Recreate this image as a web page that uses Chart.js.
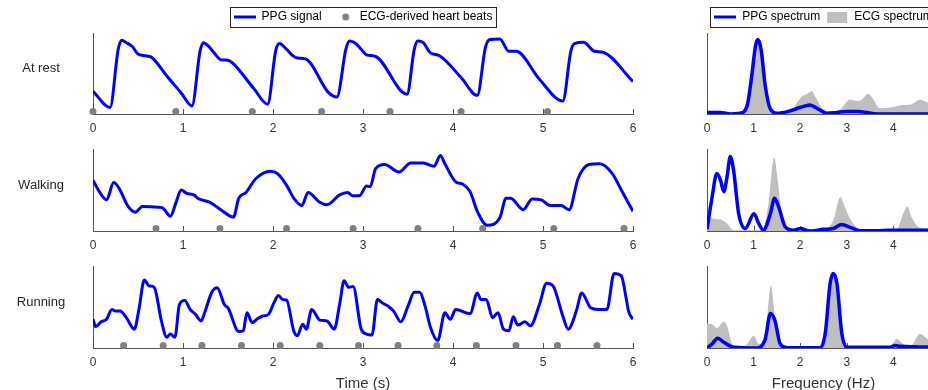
<!DOCTYPE html>
<html>
<head>
<meta charset="utf-8">
<script src="https://cdn.jsdelivr.net/npm/chart.js@4.4.0/dist/chart.umd.min.js"></script>
<style>
  html, body { margin: 0; padding: 0; background: #fff; }
  body { width: 928px; height: 390px; overflow: hidden; position: relative; }
  canvas { position: absolute; }
</style>
</head>
<body>
<canvas id="restSig"></canvas>
<canvas id="walkSig"></canvas>
<canvas id="runSig"></canvas>
<canvas id="restSpec"></canvas>
<canvas id="walkSpec"></canvas>
<canvas id="runSpec"></canvas>
<script>
// ---- time signals (s, normalised amplitude 0-100) ----
let restTime = [0, 0.19, 0.28, 0.32, 0.37, 0.44, 0.50, 0.58, 0.65, 0.82, 0.98, 1.10, 1.19, 1.23, 1.28, 1.35, 1.42, 1.50, 1.55, 1.79, 1.94, 2.03, 2.07, 2.15, 2.22, 2.27, 2.36, 2.62, 2.71, 2.81, 2.85, 2.92, 2.98, 3.04, 3.14, 3.49, 3.57, 3.61, 3.67, 3.75, 3.85, 4.09, 4.27, 4.36, 4.41, 4.52, 4.62, 4.70, 4.96, 5.22, 5.31, 5.35, 5.45, 5.57, 5.67, 6.0];
let restPPG = [28, 8, 80, 91, 88, 83, 74, 72, 70, 47, 26, 10, 78, 88, 84, 75, 67, 66.5, 63, 31, 12, 78, 87, 80, 72, 69, 68, 26, 21, 80, 90, 87, 80, 73, 71, 24.5, 80, 90, 88, 75.5, 72, 45, 23, 82, 92, 92.5, 77.5, 77.5, 43, 16, 78, 87, 88.6, 77.5, 76, 40];
let restBeats = [0, 0.92, 1.77, 2.54, 3.30, 4.09, 5.05];

let walkTime = [0, 0.07, 0.15, 0.23, 0.29, 0.39, 0.47, 0.55, 0.72, 0.78, 0.86, 0.92, 0.98, 1.04, 1.12, 1.18, 1.30, 1.42, 1.56, 1.62, 1.70, 1.81, 1.97, 2.05, 2.15, 2.23, 2.32, 2.39, 2.52, 2.60, 2.74, 2.83, 2.88, 2.96, 3.04, 3.08, 3.14, 3.24, 3.40, 3.53, 3.67, 3.79, 3.86, 3.91, 4.03, 4.11, 4.19, 4.27, 4.38, 4.52, 4.59, 4.64, 4.78, 4.88, 4.98, 5.08, 5.20, 5.29, 5.39, 5.51, 5.63, 5.77, 5.87, 6.0];
let walkPPG = [62, 48, 38, 59, 52, 30, 23, 30, 29, 27.6, 18, 34, 50, 46, 44, 39, 35, 26, 17, 40, 47, 64, 73, 70, 56, 40, 31, 47, 35, 32, 44, 47, 43, 43, 55, 54, 76, 81, 72, 83, 83, 79, 92, 82, 60, 57, 48, 24, 7, 16, 40, 40, 26, 39, 38, 31, 31, 26, 64, 81, 82, 70, 50, 24];
let walkBeats = [0.70, 1.41, 2.15, 2.89, 3.61, 4.33, 5.12, 5.90];

let runTime = [0, 0.03, 0.09, 0.15, 0.21, 0.25, 0.30, 0.37, 0.46, 0.51, 0.57, 0.62, 0.68, 0.76, 0.82, 0.86, 0.91, 0.96, 1.02, 1.08, 1.14, 1.20, 1.24, 1.32, 1.38, 1.46, 1.50, 1.62, 1.67, 1.71, 1.77, 1.83, 1.89, 1.95, 2.01, 2.06, 2.11, 2.15, 2.23, 2.27, 2.33, 2.37, 2.43, 2.52, 2.60, 2.68, 2.74, 2.79, 2.84, 2.89, 2.98, 3.04, 3.10, 3.16, 3.22, 3.28, 3.34, 3.42, 3.50, 3.57, 3.63, 3.69, 3.75, 3.83, 3.91, 3.97, 4.03, 4.19, 4.27, 4.31, 4.37, 4.44, 4.50, 4.56, 4.62, 4.67, 4.72, 4.80, 4.86, 4.96, 5.04, 5.11, 5.22, 5.28, 5.37, 5.43, 5.53, 5.61, 5.71, 5.79, 5.87, 5.93, 5.95, 6.0];
let runPPG = [35, 26, 32, 35, 47, 45, 45, 37, 23, 47, 83, 76, 74, 33, 13, 17, 13, 53, 58, 47, 41, 33, 43, 68, 73.5, 53, 49, 20, 21, 43, 31, 36, 39, 41, 55, 64, 59, 58.5, 21, 15, 29, 23, 47, 34, 33, 23, 53, 82, 74, 75, 23, 17, 16, 59, 54.5, 51, 45, 32, 51, 68, 68, 51, 25, 9, 43, 35, 47, 42, 67, 59, 59, 37, 43, 23, 21, 38, 28, 32, 27, 53, 79, 76, 39, 23, 45, 67, 49, 47, 47, 91, 88, 57, 45, 35];
let runBeats = [0.34, 0.78, 1.21, 1.65, 2.08, 2.52, 2.95, 3.39, 3.82, 4.26, 4.70, 5.16, 5.60];

// ---- spectra (Hz, normalised power 0-100) ----
let restFreqPPG = [0, 0.29, 0.5, 0.71, 0.86, 0.96, 1.04, 1.09, 1.16, 1.25, 1.36, 1.5, 1.79, 2.0, 2.21, 2.39, 2.57, 2.79, 3.0, 3.21, 3.43, 3.64, 3.93, 5];
let restPPGSpec = [2, 2, 0, 1, 10, 47, 84, 92, 80, 35, 6, 1, 4, 8, 11, 6, 1, 2, 3, 3, 2, 0, 0, 0];
let restFreqECG = [0, 0.5, 0.79, 0.93, 1.04, 1.1, 1.18, 1.27, 1.39, 1.79, 1.93, 2.04, 2.14, 2.25, 2.32, 2.46, 2.64, 2.86, 3.07, 3.21, 3.32, 3.46, 3.57, 3.71, 3.93, 4.21, 4.39, 4.57, 4.74, 5];
let restECGSpec = [2, 0, 2, 35, 80, 90, 63, 18, 2, 2, 14, 22, 24.5, 28.5, 22, 8, 2, 6, 18, 16, 18, 25, 18, 7, 8, 11, 12, 17.5, 14, 12];

let walkFreqPPG = [0, 0.11, 0.21, 0.29, 0.36, 0.43, 0.5, 0.57, 0.68, 0.82, 1.01, 1.11, 1.21, 1.36, 1.45, 1.54, 1.68, 1.86, 2.0, 2.21, 2.5, 2.71, 2.89, 3.07, 3.29, 3.64, 3.93, 5];
let walkPPGSpec = [2, 41.5, 70, 62, 48, 66, 91, 74, 21, 3, 21, 9, 1, 21, 40, 29, 5, 1, 3, 0, 2, 3, 8, 4.4, 0.4, 0.4, 1, 1];
let walkFreqECG = [0, 0.14, 0.29, 0.43, 0.57, 1.18, 1.32, 1.44, 1.51, 1.61, 1.71, 2.5, 2.71, 2.86, 2.96, 3.07, 3.29, 4.07, 4.21, 4.3, 4.39, 4.54, 4.74, 5];
let walkECGSpec = [17, 15, 14, 9, 1, 1, 33, 90, 66, 17, 2, 2, 13, 41.5, 29, 15, 2, 2, 21, 30, 17, 5, 3, 3];

let runFreqPPG = [0, 0.11, 0.23, 0.36, 0.57, 1.07, 1.25, 1.36, 1.46, 1.57, 1.71, 2.43, 2.54, 2.64, 2.71, 2.79, 2.89, 3.0, 3.93, 4.04, 4.14, 5];
let runPPGSpec = [0, 5, 12, 7, 1, 0, 11, 42, 33, 5, 0.4, 0.4, 19, 78, 91, 78, 19, 1, 1, 3, 2, 1];
let runFreqECG = [0, 0.11, 0.21, 0.36, 0.43, 0.54, 0.64, 0.79, 0.89, 1.0, 1.11, 1.25, 1.37, 1.46, 1.54, 1.71, 1.86, 2.36, 2.5, 2.61, 2.71, 2.82, 2.93, 3.07, 3.93, 4.07, 4.21, 4.36, 4.57, 4.74, 5];
let runECGSpec = [30, 29, 24.5, 32, 27, 5, 3, 1, 7, 15, 5, 15, 76, 39, 7, 3, 1, 1, 7, 62, 88, 47, 5, 1, 1, 11, 5, 2, 17, 11, 8];

const BLUE = '#0000ff';
const AXIS = '#555555';
const TXT = '#333333';
Chart.defaults.font.family = '"Liberation Sans", Arial, Helvetica, sans-serif';
Chart.defaults.color = TXT;

function pts(xs, ys) {
  return xs.map((x, i) => ({ x: x, y: ys[i] }));
}
function beatPts(xs) {
  return xs.map(x => ({ x: x, y: 3 }));
}

// little legend markers
function mark(w, h, draw) {
  const c = document.createElement('canvas');
  c.width = w; c.height = h;
  draw(c.getContext('2d'));
  return c;
}
const lineMark = mark(22, 4, g => { g.fillStyle = BLUE; g.fillRect(0, 0.5, 22, 3); });
const dotMark = mark(22, 8, g => { g.fillStyle = '#808080'; g.beginPath(); g.arc(14, 4, 3.5, 0, Math.PI * 2); g.fill(); });
const boxMark = mark(22, 11, g => { g.fillStyle = '#bfbfbf'; g.fillRect(1, 0, 20, 11); });

// matlab style ticks pointing into the plot
const innerTicks = {
  id: 'innerTicks',
  beforeDatasetsDraw(chart) {
    const xs = chart.scales.x, a = chart.chartArea, ctx = chart.ctx;
    ctx.save();
    ctx.strokeStyle = AXIS;
    ctx.lineWidth = 1;
    xs.ticks.forEach(t => {
      const px = Math.round(xs.getPixelForValue(t.value)) + 0.5;
      ctx.beginPath();
      ctx.moveTo(px, a.bottom);
      ctx.lineTo(px, a.bottom - 5);
      ctx.stroke();
    });
    ctx.restore();
  }
};

const legendFrame = {
  id: 'legendFrame',
  afterDraw(chart) {
    const lg = chart.legend;
    if (!lg || !lg.options.display || !lg.legendHitBoxes.length) return;
    const hb = lg.legendHitBoxes;
    const last = hb[hb.length - 1];
    const x0 = Math.round(hb[0].left - 4) + 0.5;
    const x1 = Math.round(last.left + last.width + 4) + 0.5;
    const y0 = Math.round(hb[0].top - 4) + 0.5;
    const y1 = Math.round(hb[0].top + hb[0].height + 4) + 0.5;
    const ctx = chart.ctx;
    ctx.save();
    ctx.strokeStyle = '#262626';
    ctx.lineWidth = 1;
    ctx.strokeRect(x0, y0, x1 - x0, y1 - y0);
    ctx.restore();
  }
};

const rowLabel = {
  id: 'rowLabel',
  afterDraw(chart, args, opts) {
    if (!opts.text) return;
    const a = chart.chartArea, ctx = chart.ctx;
    ctx.save();
    ctx.fillStyle = '#262626';
    ctx.font = '13px "Liberation Sans", Arial, sans-serif';
    ctx.textAlign = 'center';
    ctx.textBaseline = 'middle';
    ctx.fillText(opts.text, 41, (a.top + a.bottom) / 2 - 5);
    ctx.restore();
  }
};

function makePanel(id, p) {
  const el = document.getElementById(id);
  el.width = p.width;
  el.height = p.height;
  el.style.left = p.left + 'px';
  el.style.top = p.top + 'px';
  new Chart(el, {
    type: 'line',
    data: { datasets: p.datasets },
    options: {
      responsive: false,
      animation: false,
      layout: { padding: { left: p.padLeft, right: p.padRight, top: p.padTop, bottom: 0 } },
      plugins: {
        tooltip: { enabled: false },
        rowLabel: { text: p.label || '' },
        legend: {
          display: !!p.legendItems,
          position: 'top',
          labels: {
            usePointStyle: true,
            pointStyleWidth: 22,
            padding: p.legPad || 10,
            color: '#111',
            font: { size: 12 },
            generateLabels: () => p.legendItems || []
          }
        }
      },
      scales: {
        x: {
          type: 'linear',
          min: 0,
          max: p.xMax,
          afterFit: s => { s.height = p.axisH; },
          border: { display: true, color: AXIS, width: 1 },
          grid: { display: false, drawTicks: false },
          ticks: { stepSize: 1, padding: 7, color: TXT, font: { size: 12 }, maxRotation: 0 },
          title: {
            display: !!p.xTitle,
            text: p.xTitle || '',
            color: TXT,
            font: { size: 15 },
            padding: { top: 2, bottom: 3 }
          }
        },
        y: {
          min: 0,
          max: 100,
          afterFit: s => { s.width = 0; },
          border: { display: true, color: AXIS, width: 1 },
          grid: { display: false, drawTicks: false },
          ticks: { display: false }
        }
      }
    },
    plugins: [innerTicks, legendFrame, rowLabel]
  });
}

function sigSets(t, v, beats) {
  return [
    { data: pts(t, v), borderColor: BLUE, borderWidth: 3, pointRadius: 0, cubicInterpolationMode: 'monotone', fill: false },
    { data: beatPts(beats), showLine: false, pointRadius: 3.5, pointBackgroundColor: '#808080', pointBorderWidth: 0, clip: false }
  ];
}
function specSets(fp, vp, fe, ve) {
  return [
    { data: pts(fp, vp), borderColor: BLUE, borderWidth: 3.5, pointRadius: 0, cubicInterpolationMode: 'monotone', fill: false },
    { data: pts(fe, ve), borderWidth: 0, borderColor: 'rgba(0,0,0,0)', backgroundColor: '#bfbfbf', pointRadius: 0, cubicInterpolationMode: 'monotone', fill: 'origin' }
  ];
}

const sigLegend = [
  { text: 'PPG signal', pointStyle: lineMark, fillStyle: BLUE, strokeStyle: BLUE, lineWidth: 0, hidden: false, datasetIndex: 0 },
  { text: 'ECG-derived heart beats', pointStyle: dotMark, fillStyle: '#808080', strokeStyle: '#808080', lineWidth: 0, hidden: false, datasetIndex: 1 }
];
const specLegend = [
  { text: 'PPG spectrum', pointStyle: lineMark, fillStyle: BLUE, strokeStyle: BLUE, lineWidth: 0, hidden: false, datasetIndex: 0 },
  { text: 'ECG spectrum', pointStyle: boxMark, fillStyle: '#bfbfbf', strokeStyle: '#bfbfbf', lineWidth: 0, hidden: false, datasetIndex: 1 }
];

const LEFT = { left: 0, width: 665, padLeft: 93, padRight: 32, xMax: 6 };
const RIGHT = { left: 680, width: 280, padLeft: 27, padRight: 20, xMax: 5 };
const ROWS = [
  { top: 0, height: 138, padTop: 1, axisH: 24 },
  { top: 138, height: 117, padTop: 11, axisH: 24 },
  { top: 255, height: 141, padTop: 11, axisH: 48 }
];

makePanel('restSig', Object.assign({}, LEFT, ROWS[0], { label: 'At rest', legendItems: sigLegend, datasets: sigSets(restTime, restPPG, restBeats) }));
makePanel('walkSig', Object.assign({}, LEFT, ROWS[1], { label: 'Walking', datasets: sigSets(walkTime, walkPPG, walkBeats) }));
makePanel('runSig', Object.assign({}, LEFT, ROWS[2], { label: 'Running', xTitle: 'Time (s)', datasets: sigSets(runTime, runPPG, runBeats) }));
makePanel('restSpec', Object.assign({}, RIGHT, ROWS[0], { padTop: 5, legPad: 6, legendItems: specLegend, datasets: specSets(restFreqPPG, restPPGSpec, restFreqECG, restECGSpec) }));
makePanel('walkSpec', Object.assign({}, RIGHT, ROWS[1], { datasets: specSets(walkFreqPPG, walkPPGSpec, walkFreqECG, walkECGSpec) }));
makePanel('runSpec', Object.assign({}, RIGHT, ROWS[2], { xTitle: 'Frequency (Hz)', datasets: specSets(runFreqPPG, runPPGSpec, runFreqECG, runECGSpec) }));
</script>
</body>
</html>
